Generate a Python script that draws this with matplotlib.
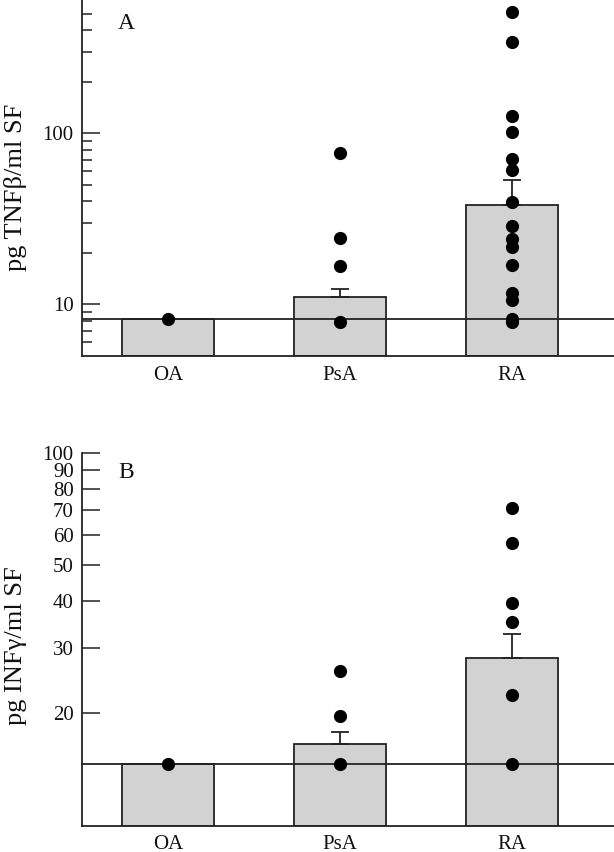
import matplotlib
matplotlib.use("Agg")
import matplotlib.pyplot as plt
from matplotlib.ticker import FixedLocator, NullFormatter, FixedFormatter

plt.rcParams['font.family'] = ['Liberation Serif', 'DejaVu Serif']

categories = ["OA", "PsA", "RA"]

# Panel A: TNF-beta
tnf_means = [8.2, 11.05, 38.2]
tnf_err = [0.0, 1.3, 15.2]
tnf_points = {
    "OA": [8.2],
    "PsA": [77.0, 24.3, 16.8, 7.85],
    "RA": [509, 339, 126, 101, 71, 60.6, 39.6, 28.9, 24.1, 21.8, 17.1, 11.7, 10.65, 8.2, 7.85],
}
tnf_limit = 8.2

# Panel B: IFN-gamma
inf_means = [14.6, 16.55, 28.2]
inf_err = [0.0, 1.25, 4.4]
inf_points = {
    "OA": [14.6],
    "PsA": [26.0, 19.7, 14.6],
    "RA": [70.9, 57.1, 39.6, 35.1, 22.4, 14.6],
}
inf_limit = 14.6

W, H = 614, 852
fig = plt.figure(figsize=(W / 100, H / 100), dpi=100)

ax1 = fig.add_axes([82 / W, 1 - 356 / H, 1 - 82 / W, 356 / H])
ax2 = fig.add_axes([82 / W, 1 - 825.7 / H, 1 - 82 / W, 373 / H])

line_col = "#222222"
bar_col = "#d2d2d2"
lw = 1.3


def draw(ax, means, errs, points, limit, ylo, yhi):
    ax.set_yscale("log")
    x = list(range(len(categories)))
    heights = [m - ylo for m in means]
    ax.bar(x, heights, bottom=ylo, width=0.535, color=bar_col,
           edgecolor=line_col, linewidth=lw, zorder=2)
    for xi, m, e in zip(x, means, errs):
        if e > 0:
            ax.errorbar([xi], [m], yerr=[[0], [e]], fmt="none", ecolor=line_col,
                        elinewidth=lw, capsize=6.5, capthick=lw, zorder=3)
    ax.axhline(limit, color=line_col, linewidth=lw, zorder=4)
    for xi, c in zip(x, categories):
        vals = points[c]
        ax.plot([xi] * len(vals), vals, "o", color="black", markersize=9.5,
                markeredgewidth=0, zorder=5)
    ax.set_xlim(-0.5, (614 - 168) / 172)
    ax.set_ylim(ylo, yhi)
    for s in ["top", "right"]:
        ax.spines[s].set_visible(False)
    for s in ["left", "bottom"]:
        ax.spines[s].set_linewidth(lw)
        ax.spines[s].set_color(line_col)
    ax.set_xticks(x)
    ax.set_xticklabels(categories, fontsize=15, color="#111111")
    ax.tick_params(axis="x", direction="in", length=13, width=1.1,
                   color=line_col, pad=7)
    ax.tick_params(axis="y", which="major", direction="in", length=13,
                   width=1.1, color=line_col, labelsize=15, labelcolor="#111111", pad=6)
    ax.tick_params(axis="y", which="minor", direction="in", length=7.2,
                   width=1.1, color=line_col)


draw(ax1, tnf_means, tnf_err, tnf_points, tnf_limit, 5, 600)
ax1.yaxis.set_major_locator(FixedLocator([10, 100]))
ax1.yaxis.set_major_formatter(FixedFormatter(["10", "100"]))
ax1.yaxis.set_minor_locator(FixedLocator([6, 7, 8, 9, 20, 30, 40, 50, 60, 70, 80, 90,
                                          200, 300, 400, 500]))
ax1.yaxis.set_minor_formatter(NullFormatter())
ax1.text(36 / 532, 0.935, "A", transform=ax1.transAxes, fontsize=17,
         ha="left", va="center", color="#111111")

draw(ax2, inf_means, inf_err, inf_points, inf_limit, 10, 100)
yt = [20, 30, 40, 50, 60, 70, 80, 90, 100]
ax2.yaxis.set_major_locator(FixedLocator(yt))
ax2.yaxis.set_major_formatter(FixedFormatter([str(v) for v in yt]))
ax2.yaxis.set_minor_locator(FixedLocator([]))
ax2.yaxis.set_minor_formatter(NullFormatter())
ax2.text(36 / 532, 0.946, "B", transform=ax2.transAxes, fontsize=17,
         ha="left", va="center", color="#111111")

fig.text(16 / W, 1 - 187 / H, "pg TNFβ/ml SF", rotation=90, fontsize=19,
         ha="center", va="center", color="#111111")
fig.text(16 / W, 1 - 646 / H, "pg INFγ/ml SF", rotation=90, fontsize=19,
         ha="center", va="center", color="#111111")

fig.savefig("out.png", dpi=100)
